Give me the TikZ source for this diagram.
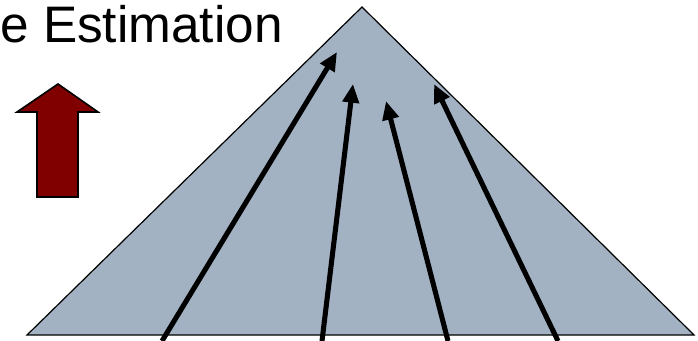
\documentclass[tikz,border=0pt]{standalone}
\usepackage{fontspec}
\setmainfont{Liberation Sans}
\usetikzlibrary{arrows.meta}
\definecolor{trifill}{HTML}{A3B2C2}
\definecolor{darkred}{HTML}{800000}
\begin{document}
\begin{tikzpicture}[x=0.75pt,y=-0.75pt,
  flow/.style={line width=3.8pt,-{Triangle[length=14pt,width=12pt]}},
  title/.style={inner sep=0pt,font=\fontsize{38.5}{44}\selectfont}]
\useasboundingbox (0,0) rectangle (698,341);
\filldraw[draw=black,line width=0.9pt,fill=trifill] (362,7) coordinate (apex) -- (694,335) coordinate (br) -- (27,335) coordinate (bl) -- cycle;
\node[title,anchor=base east] (ttl) at (283,43) {e Estimation};
\filldraw[draw=black,line width=1.2pt,fill=darkred] (58,84) -- (98,112) -- (78,112) -- (78,197) -- (37,197) -- (37,112) -- (17,112) -- cycle;
\coordinate (s1) at (162,341); \coordinate (t1) at (337,52);
\coordinate (s2) at (322,341); \coordinate (t2) at (353,84);
\coordinate (s3) at (448,341); \coordinate (t3) at (386,101);
\coordinate (s4) at (558,341); \coordinate (t4) at (434,84);
\draw[flow] (s1) -- (t1);
\draw[flow] (s2) -- (t2);
\draw[flow] (s3) -- (t3);
\draw[flow] (s4) -- (t4);
\end{tikzpicture}
\end{document}
